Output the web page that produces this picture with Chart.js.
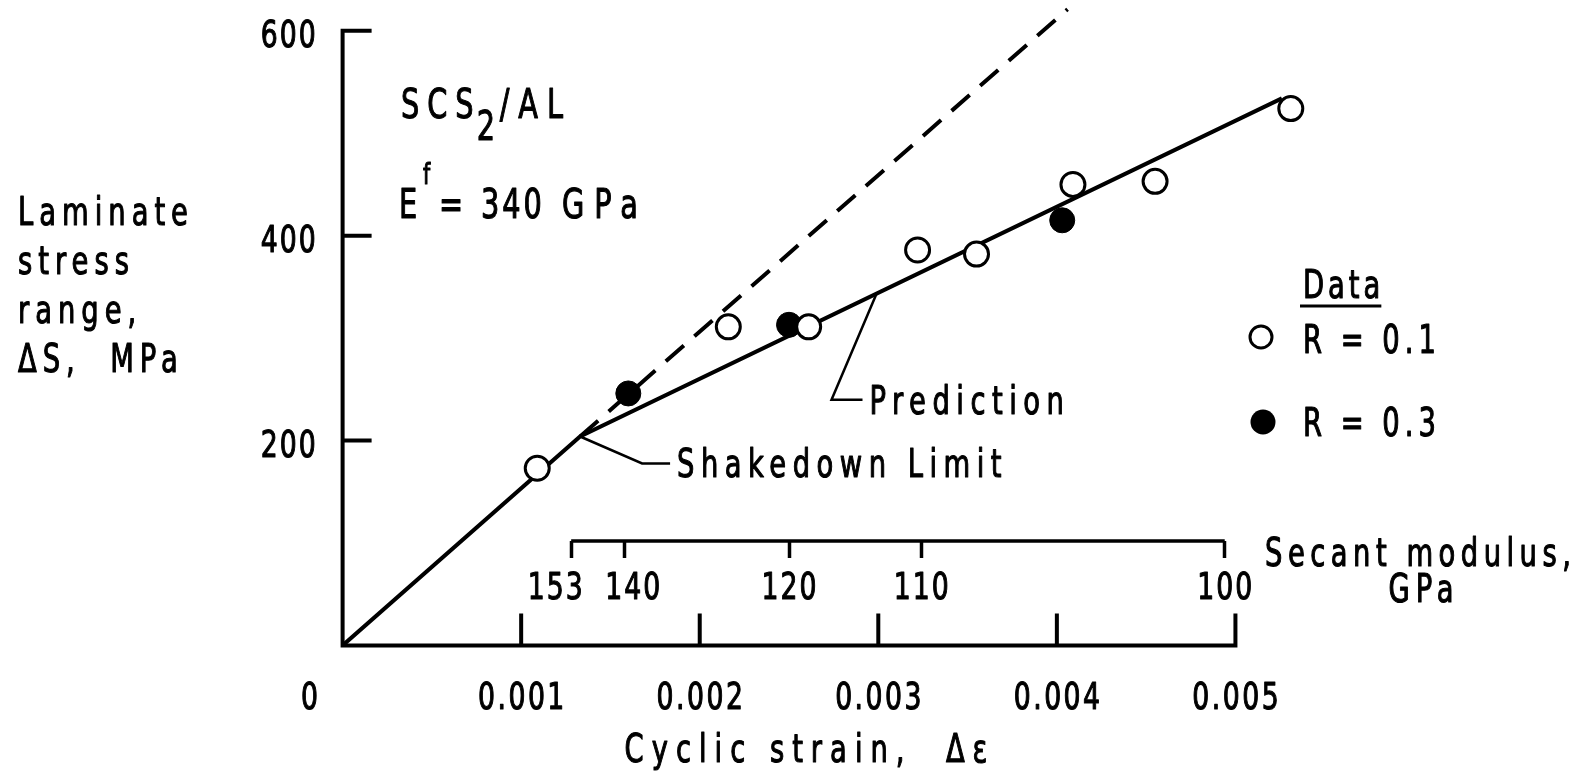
<!DOCTYPE html>
<html>
<head>
<meta charset="utf-8">
<title>Laminate stress range vs cyclic strain</title>
<script src="https://cdn.jsdelivr.net/npm/chart.js"></script>
<style>
  html, body { margin: 0; padding: 0; background: #fff; }
  canvas { display: block; }
</style>
</head>
<body>
<canvas id="chart" width="1594" height="784"></canvas>
<script>
// measured points, R = 0.1 (open) and R = 0.3 (filled)
var strainR01 = [0.00109, 0.00216, 0.00261, 0.00322, 0.00355, 0.00409, 0.00455, 0.00531];
var stressR01 = [173, 311, 311, 386, 382, 450, 453, 524];
var strainR03 = [0.00160, 0.00250, 0.00403];
var stressR03 = [246, 313, 415];

// prediction: elastic to the shakedown limit, then the plastic branch
var predStrain = [0, 0.00133, 0.00526];
var predStress = [0, 204, 534];

// elastic slope carried on past shakedown (dashed)
var elasticStrain = [0.00133, 0.00406];
var elasticStress = [204, 621];

var strainTicks = [0.001, 0.002, 0.003, 0.004, 0.005];
var stressTicks = [200, 400, 600];

// secant modulus scale (GPa) hung at the matching strains
var secantLabels = [153, 140, 120, 110, 100];
var secantStrain = [0.00128, 0.00158, 0.00250, 0.00324, 0.00494];
var secantLevel = 102;

var FONT = "'DejaVu Sans Condensed', 'DejaVu Sans', sans-serif";

function pts(xs, ys) {
    return xs.map(function (x, i) { return { x: x, y: ys[i] }; });
}

// lettering is squeezed sideways and spaced out, like the stencil text
function label(ctx, str, x, y, o) {
    o = o || {};
    var size = o.size || 39;
    var sp = o.spacing != null ? o.spacing : 6.5;
    var k = o.squeeze || 0.78;
    ctx.save();
    ctx.font = size + 'px ' + FONT;
    ctx.letterSpacing = (sp / k) + 'px';
    ctx.textAlign = 'left';
    ctx.textBaseline = 'alphabetic';
    ctx.fillStyle = '#000';
    ctx.strokeStyle = '#000';
    ctx.lineWidth = 1.1;
    ctx.lineJoin = 'round';
    var w = ctx.measureText(str).width * k - sp;
    var left = x;
    if (o.align === 'center') left = x - w / 2;
    else if (o.align === 'right') left = x - w;
    ctx.translate(left, y);
    ctx.scale(k, 1);
    ctx.fillText(str, 0, 0);
    ctx.strokeText(str, 0, 0);
    ctx.restore();
    return w;
}

var frame = {
    id: 'frame',
    beforeDatasetsDraw: function (chart) {
        var ctx = chart.ctx, sx = chart.scales.x, sy = chart.scales.y;
        var x0 = sx.getPixelForValue(0), y0 = sy.getPixelForValue(0);
        var xEnd = sx.getPixelForValue(strainTicks[strainTicks.length - 1]);
        var yTop = sy.getPixelForValue(stressTicks[stressTicks.length - 1]);
        ctx.save();
        ctx.strokeStyle = '#000';
        ctx.lineWidth = 4;
        ctx.lineCap = 'square';
        ctx.beginPath();
        ctx.moveTo(x0, yTop);
        ctx.lineTo(x0, y0);
        ctx.lineTo(xEnd, y0);
        sy.ticks.forEach(function (t) {
            var y = sy.getPixelForValue(t.value);
            ctx.moveTo(x0, y);
            ctx.lineTo(x0 + 27, y);
        });
        sx.ticks.forEach(function (t) {
            var x = sx.getPixelForValue(t.value);
            ctx.moveTo(x, y0);
            ctx.lineTo(x, y0 - 30);
        });
        ctx.stroke();
        ctx.restore();
    },
    afterDraw: function (chart) {
        var ctx = chart.ctx, sx = chart.scales.x, sy = chart.scales.y, ss = chart.scales.xs;
        var x0 = sx.getPixelForValue(0), y0 = sy.getPixelForValue(0);

        // tick labels
        sy.ticks.forEach(function (t) {
            label(ctx, String(t.value), x0 - 27, sy.getPixelForValue(t.value) + 16, { size: 38, spacing: 2, align: 'right' });
        });
        sx.ticks.forEach(function (t) {
            label(ctx, t.value.toFixed(3), sx.getPixelForValue(t.value), y0 + 63, { size: 38, spacing: 2.5, align: 'center' });
        });
        label(ctx, '0', x0 - 33, y0 + 63, { size: 38, spacing: 0, align: 'center' });
        // the two crowded labels at the left end are spread apart
        var spread = [-16, 8, 0, 0, 0];
        var yLine = sy.getPixelForValue(secantLevel);
        ss.ticks.forEach(function (t, i) {
            label(ctx, String(secantLabels[i]), ss.getPixelForValue(t.value) + spread[i], yLine + 58, { size: 38, spacing: 2, align: 'center' });
        });

        // axis titles
        ['Laminate', 'stress', 'range,', '\u0394S,  MPa'].forEach(function (line, i) {
            label(ctx, line, 18, 225 + i * 49, { spacing: 6 });
        });
        label(ctx, 'Cyclic strain,  \u0394\u03b5', 806, 762, { spacing: 8, align: 'center' });

        // material note
        var w = label(ctx, 'SCS', 401, 118, { size: 41, spacing: 8 });
        label(ctx, '2', 401 + w + 3, 140, { size: 41, spacing: 0 });
        label(ctx, '/AL', 401 + w + 26, 118, { size: 41, spacing: 9 });
        label(ctx, 'E', 399, 218, { size: 41, spacing: 0 });
        label(ctx, 'f', 423, 184, { size: 29, spacing: 0 });
        label(ctx, '=', 439, 218, { size: 41, spacing: 0 });
        label(ctx, '340', 481, 218, { size: 41, spacing: 3 });
        label(ctx, 'GPa', 562, 218, { size: 41, spacing: 10 });

        ctx.save();
        ctx.strokeStyle = '#000';
        ctx.lineWidth = 2.5;

        // shakedown limit leader
        var sk = { x: sx.getPixelForValue(predStrain[1]), y: sy.getPixelForValue(predStress[1]) };
        ctx.beginPath();
        ctx.moveTo(sk.x, sk.y);
        ctx.lineTo(sk.x + 62, sk.y + 27);
        ctx.lineTo(sk.x + 90, sk.y + 27);
        ctx.stroke();
        label(ctx, 'Shakedown Limit', sk.x + 97, sk.y + 41);

        // prediction leader, anchored on the plastic branch
        var e = 0.00299;
        var s = predStress[1] + (predStress[2] - predStress[1]) * (e - predStrain[1]) / (predStrain[2] - predStrain[1]);
        var pr = { x: sx.getPixelForValue(e), y: sy.getPixelForValue(s) };
        ctx.beginPath();
        ctx.moveTo(pr.x, pr.y);
        ctx.lineTo(pr.x - 45, pr.y + 106);
        ctx.lineTo(pr.x - 14, pr.y + 106);
        ctx.stroke();
        label(ctx, 'Prediction', pr.x - 7, pr.y + 120);

        // legend
        var dw = label(ctx, 'Data', 1303, 298, { spacing: 4 });
        ctx.lineWidth = 3;
        ctx.beginPath();
        ctx.moveTo(1300, 306);
        ctx.lineTo(1304 + dw, 306);
        ctx.stroke();
        ctx.beginPath();
        ctx.arc(1261, 337, 11, 0, Math.PI * 2);
        ctx.fillStyle = '#fff';
        ctx.fill();
        ctx.stroke();
        label(ctx, 'R = 0.1', 1303, 353, { spacing: 5 });
        ctx.beginPath();
        ctx.arc(1263, 422, 12.5, 0, Math.PI * 2);
        ctx.fillStyle = '#000';
        ctx.fill();
        label(ctx, 'R = 0.3', 1303, 436, { spacing: 5 });
        ctx.restore();

        // secant modulus scale title
        label(ctx, 'Secant modulus,', 1418, 566, { spacing: 5.5, align: 'center' });
        label(ctx, 'GPa', 1421, 602, { spacing: 6, align: 'center' });
    }
};

var ctx = document.getElementById('chart');
var chart = new Chart(ctx, {
    type: 'scatter',
    data: {
        datasets: [{
            label: 'R = 0.1',
            data: pts(strainR01, stressR01),
            pointRadius: 12,
            pointBorderWidth: 3,
            pointBackgroundColor: '#fff',
            pointBorderColor: '#000',
            xAxisID: 'x',
            yAxisID: 'y'
        }, {
            label: 'R = 0.3',
            data: pts(strainR03, stressR03),
            pointRadius: 12.5,
            pointBorderWidth: 1,
            pointBackgroundColor: '#000',
            pointBorderColor: '#000',
            xAxisID: 'x',
            yAxisID: 'y'
        }, {
            label: 'Prediction',
            data: pts(predStrain, predStress),
            showLine: true,
            borderColor: '#000',
            borderWidth: 4,
            pointRadius: 0,
            xAxisID: 'x',
            yAxisID: 'y'
        }, {
            label: 'Elastic',
            data: pts(elasticStrain, elasticStress),
            showLine: true,
            borderColor: '#000',
            borderWidth: 4,
            borderDash: [24, 14],
            pointRadius: 0,
            xAxisID: 'x',
            yAxisID: 'y'
        }, {
            label: 'Secant modulus',
            data: [
                { x: secantStrain[0], y: secantLevel },
                { x: secantStrain[secantStrain.length - 1], y: secantLevel }
            ],
            showLine: true,
            borderColor: '#000',
            borderWidth: 3.5,
            pointRadius: 0,
            xAxisID: 'x',
            yAxisID: 'y'
        }]
    },
    options: {
        responsive: false,
        animation: false,
        devicePixelRatio: 1,
        layout: {
            autoPadding: false,
            padding: { left: 0, top: 0, right: 180, bottom: 0 }
        },
        plugins: {
            legend: { display: false },
            tooltip: { enabled: false }
        },
        scales: {
            x: {
                type: 'linear',
                min: 0,
                max: 0.006,
                afterBuildTicks: function (s) {
                    s.ticks = strainTicks.map(function (v) { return { value: v }; });
                },
                afterFit: function (s) {
                    s.height = 138.5;
                    s.paddingLeft = 0;
                    s.paddingRight = 0;
                },
                grid: { display: false },
                border: { display: false },
                ticks: { display: false }
            },
            y: {
                type: 'linear',
                min: 0,
                max: 630,
                afterBuildTicks: function (s) {
                    s.ticks = stressTicks.map(function (v) { return { value: v }; });
                },
                afterFit: function (s) {
                    s.width = 342.6;
                    s.paddingTop = 0;
                    s.paddingBottom = 0;
                },
                grid: { display: false },
                border: { display: false },
                ticks: { display: false }
            },
            xs: {
                type: 'linear',
                axis: 'x',
                position: { y: secantLevel },
                min: 0,
                max: 0.006,
                afterBuildTicks: function (s) {
                    s.ticks = secantStrain.map(function (v) { return { value: v }; });
                },
                afterFit: function (s) {
                    s.height = 0;
                    s.paddingLeft = 0;
                    s.paddingRight = 0;
                },
                grid: {
                    display: true,
                    drawOnChartArea: false,
                    drawTicks: true,
                    tickLength: 17,
                    tickWidth: 3.5,
                    tickColor: '#000'
                },
                border: { display: false },
                ticks: { display: false }
            }
        }
    },
    plugins: [frame]
});
</script>
</body>
</html>
